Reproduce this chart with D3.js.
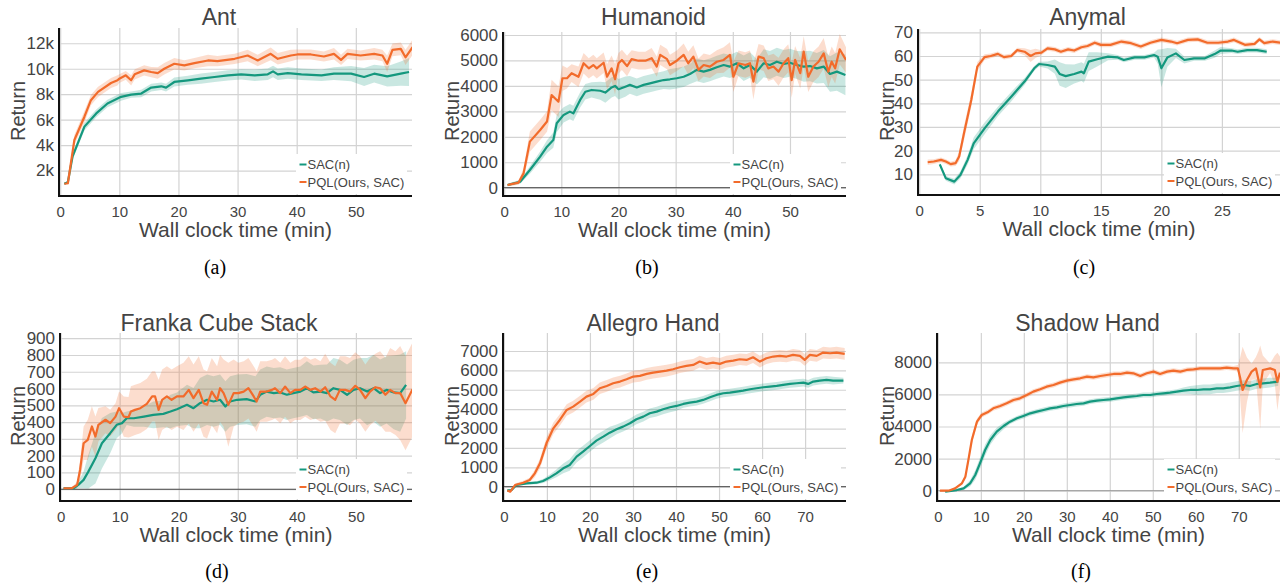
<!DOCTYPE html>
<html>
<head>
<meta charset="utf-8">
<script src="https://cdn.jsdelivr.net/npm/d3@7"></script>
<style>
    body { margin: 0; background: #fff; }
    svg text { font-family: "Liberation Sans", Arial, sans-serif; fill: #444; }
    svg text.caption { font-family: "Liberation Serif", "Times New Roman", serif; fill: #000; }
</style>
</head>
<body>
<svg id="chart" width="1287" height="586"></svg>
<script>

// Each point: [wall clock minutes, mean return, half width of shaded band]
var antSac = [[0.7,960,80],[1.3,1090,100],[2.1,3120,250],[4.1,5450,300],[6.1,6490,300],[8,7270,300],[10.3,7790,300],[12,7970,250],[13.7,8050,300],[15.4,8520,300],[17.1,8620,300],[17.9,8520,300],[19.3,8960,350],[21.6,9090,350],[23.8,9220,400],[26.1,9350,400],[28.4,9480,400],[30.6,9560,400],[32.9,9480,450],[35.1,9560,450],[36,9790,450],[36.8,9560,450],[38.5,9660,450],[40.8,9560,450],[44.2,9480,450],[46.3,9610,500],[49.2,9610,600],[51.4,9350,700],[53.1,9610,700],[55.3,9400,800],[57.6,9610,950],[59,9740,1100]];
var antPql = [[0.7,960,80],[1.3,1000,100],[2.4,4400,400],[4.1,6230,450],[5.2,7530,400],[6.4,8180,400],[8.6,8880,400],[9.7,9090,400],[10,9220,350],[11.1,9480,350],[12,9090,400],[12.6,9560,400],[14.2,9870,400],[15.4,9740,400],[16.5,9660,450],[17.6,10000,450],[19.3,10390,450],[21,10260,400],[22.7,10440,400],[25,10650,450],[26.6,10600,400],[29.5,10780,400],[31.7,11040,450],[33.4,10650,450],[35.6,11170,500],[36.8,10780,450],[39,11040,450],[40.1,11120,400],[42.4,11120,400],[44.6,10960,400],[46.3,11170,450],[47.5,10700,400],[48.6,11170,400],[50.8,11040,400],[53.1,11170,450],[54.5,11040,450],[55.3,10390,650],[56.2,11480,500],[57.6,11560,500],[58.4,10900,600],[59.6,11690,600]];

var humSac = [[0.6,105,50],[2.8,236,80],[4.5,695,150],[6.3,1220,200],[7.5,1610,250],[8.6,1870,300],[9.2,2530,350],[10.4,2860,300],[11.5,2990,300],[12.1,2920,300],[13.3,3450,300],[14.2,3770,300],[15.3,3840,300],[16.8,3810,350],[17.7,3740,400],[18.8,3940,400],[19.4,4000,400],[20,3870,400],[21.2,3970,400],[22,4040,350],[23.2,3940,350],[24.4,4040,350],[25.5,4100,350],[26.7,4170,350],[27.9,4230,350],[29,4260,400],[30.2,4300,400],[31.4,4360,400],[32.5,4470,400],[33.7,4630,450],[34.9,4560,450],[36,4630,450],[37.2,4730,450],[38.4,4820,450],[39.5,4760,450],[40.7,4890,450],[41.9,4690,500],[43,4820,500],[44.2,4560,500],[45.4,4890,550],[46.5,4820,550],[47.7,4950,550],[48.9,4860,550],[50,4910,550],[51.2,4820,550],[52.4,4760,600],[53.5,4780,600],[54.7,4690,600],[55.9,4760,650],[57,4470,700],[58.2,4560,750],[59.7,4430,800]];
var humPql = [[0.6,105,50],[2.5,197,80],[3.4,564,200],[4.5,1810,400],[6.3,2270,400],[7.5,2600,400],[8.3,3640,600],[9.5,3380,600],[10.2,4300,500],[11,4300,400],[11.8,4500,350],[13,4360,400],[13.9,4890,400],[14.8,4690,400],[15.6,4820,400],[16.2,4690,400],[17.4,4910,400],[18,4360,500],[18.8,4690,500],[19.4,4260,600],[20,4890,400],[20.6,5020,400],[21.5,4780,400],[22.3,5050,350],[23.5,4990,350],[24.7,4990,350],[25.8,5090,400],[26.7,4760,400],[27.3,5220,400],[28.5,5050,400],[29,4820,400],[30.2,4990,400],[31.4,5220,450],[32.2,4890,450],[33.1,5150,450],[34,4630,450],[34.9,4820,450],[36,4760,450],[37.2,4950,450],[38.4,5020,500],[39.5,5220,500],[40.1,4360,600],[41,4890,500],[42.2,4820,500],[43,4890,500],[43.6,4170,700],[44.5,5150,500],[45.4,5090,500],[46.2,4690,500],[47.1,4760,500],[48,4560,550],[48.9,4890,550],[49.7,5090,550],[50.3,4230,700],[50.9,5020,550],[51.8,4500,600],[52.4,5350,600],[53.2,4360,600],[54.1,4760,600],[55,4950,600],[55.9,5280,600],[56.7,4560,600],[57.3,4950,600],[57.9,4690,600],[58.7,5440,600],[59.8,5020,500]];

var anySac = [[1.7,14.2,0.8],[2.2,8.3,1],[2.9,6.9,1.2],[3.4,9.7,1.5],[4,16.1,2],[4.5,23.1,2.5],[5.4,29.4,2.5],[6.5,36.5,2],[7.6,42.8,2],[8.7,49.2,1.5],[9.5,54.8,1],[9.9,56.6,1],[10.6,56.2,1.5],[11.2,55.5,3],[11.6,52.4,5],[12.1,51.5,5],[12.8,52.4,4],[13.4,53.4,4],[13.6,52.7,4],[14,57.6,4],[14.7,58.6,3],[15.6,59.7,1.5],[16.4,59.4,1],[16.9,58.3,1],[17.8,59.4,1],[18.6,59.4,1],[19.4,60.4,1],[19.7,59.7,3],[20,54.8,8],[20.5,59.4,4],[21.2,61.1,2],[21.9,58.3,1.5],[22.7,59,1],[23.6,59,1],[24.4,60.8,1.5],[24.9,62.3,1.5],[25.8,62.3,1],[26.3,61.8,1],[27.1,62.5,1],[27.9,62.5,1],[28.7,61.8,1]];
var anyPql = [[0.7,15.1,1.2],[1.2,15.4,1],[1.8,16.1,1],[2.2,15.4,1],[2.6,14.3,1],[3,14.7,1.2],[3.3,17.5,2],[3.7,27.4,3],[4.3,41.4,3],[4.8,55.5,2],[5.4,59.5,1.2],[5.9,60,1],[6.5,60.9,1],[7,59.5,1],[7.6,60,1],[8.1,62.5,1],[8.7,61.8,1.5],[9.2,60,2.5],[9.6,61.1,2],[10.1,61.4,1],[10.6,63.2,1],[11.2,62.8,1],[11.7,61.8,1],[12.3,62.8,1],[12.8,62.3,1],[13.4,63.7,1],[13.9,64.2,1],[14.5,65.6,1],[15,64.7,1],[15.8,64.7,1],[16.7,66.1,1],[17.5,65.4,1],[18.3,64,1],[19.1,65.6,1],[20,66.8,1],[20.8,66.1,1],[21.3,65.4,1],[22.2,66.8,1],[23,67,1],[23.8,65.6,1],[24.7,65.6,1],[25.5,66.1,1],[26,66.8,1],[26.9,64.7,1],[27.7,65.1,1],[28.1,67,1],[28.5,65.4,1],[29.2,66.1,1],[29.9,65.6,1]];

var frkSac = [[0.5,6,5],[2.2,6,5],[3,26,20],[3.9,56,50],[4.7,105,100],[5.9,185,150],[7,274,150],[8.4,334,120],[9.5,384,80],[10.4,394,60],[11.2,423,40],[12.4,423,50],[14.1,433,60],[15.7,443,80],[17.4,449,80],[18.6,463,100],[19.7,477,100],[21.4,503,120],[22.5,483,120],[23.6,513,150],[24.8,533,150],[25.9,523,150],[27,533,150],[27.9,493,150],[28.7,523,150],[29.9,533,150],[31.5,537,150],[33,523,150],[33.8,563,150],[34.9,582,150],[36.1,573,150],[37.2,577,150],[38.3,563,150],[39.4,573,150],[40.6,582,150],[41.7,602,160],[42.8,577,160],[44,582,160],[45.1,573,170],[46.2,602,180],[47.3,592,180],[48.5,563,180],[49.6,592,180],[50.7,602,180],[51.9,582,200],[53,602,200],[54.1,573,200],[55.2,592,200],[56.4,577,220],[57.5,573,230],[58.5,622,200]];
var frkPql = [[0.5,6,5],[1.9,6,5],[2.8,26,20],[3.3,115,60],[3.9,274,100],[4.6,294,120],[5.3,374,120],[5.9,314,120],[6.4,384,100],[7.6,414,80],[8.4,394,80],[9.3,433,80],[9.9,483,100],[10.7,433,120],[11.5,429,120],[11.9,463,150],[12.6,473,150],[13.5,483,150],[14.6,509,150],[15.5,553,150],[16,553,150],[16.6,473,180],[17.2,533,180],[18,553,180],[18.8,533,180],[19.7,553,180],[20.8,553,200],[21.7,592,200],[22.5,543,200],[23.4,592,200],[24.2,513,200],[24.8,503,200],[25.6,582,200],[26.5,533,200],[27,602,200],[27.6,573,200],[28.4,503,250],[29.3,573,200],[30.1,573,180],[31,582,180],[31.8,602,180],[32.7,553,180],[33.2,523,180],[33.8,582,180],[34.9,582,180],[35.8,592,180],[36.3,602,180],[37.2,573,180],[38,612,180],[38.9,573,180],[39.7,592,180],[40.6,592,180],[41.4,612,180],[42.3,592,180],[43.1,602,180],[44,582,180],[44.8,608,200],[45.7,553,200],[46.5,533,200],[47.3,592,200],[48.2,592,200],[49,582,200],[49.9,616,200],[50.7,592,200],[51.6,543,200],[52.4,582,200],[53.3,608,200],[54.1,602,220],[55,563,220],[55.8,592,250],[56.7,573,250],[57.5,573,280],[58.4,513,280],[59.6,596,280]];

var allSac = [[0.8,-200,60],[1.8,-170,60],[2.9,86,60],[5.3,172,60],[7.6,206,80],[9.1,293,100],[10.7,482,150],[12.2,688,200],[13.8,947,250],[15.3,1119,300],[16.9,1549,300],[18.4,1807,300],[20,2100,300],[21.5,2375,300],[23.1,2582,300],[24.6,2788,300],[26.2,2960,250],[27.7,3098,250],[29.3,3270,250],[30.8,3477,250],[32.4,3614,250],[33.9,3787,250],[35.5,3873,250],[37,3993,250],[38.6,4096,250],[40.1,4165,250],[41.7,4269,200],[43.2,4337,200],[44.8,4389,200],[46.3,4475,200],[47.9,4613,200],[49.4,4733,200],[51,4819,200],[52.5,4854,200],[54.1,4905,200],[55.6,4957,200],[57.2,5026,200],[58.7,5077,200],[60.3,5129,200],[61.8,5163,200],[63.4,5198,200],[64.9,5250,200],[66.5,5301,200],[68,5336,200],[69.6,5370,200],[70.7,5301,200],[71.9,5422,200],[73.4,5473,200],[75,5508,200],[76.5,5473,200],[78.9,5473,150]];
var allPql = [[0.8,-200,60],[1.5,-260,60],[2.6,86,80],[4.5,206,100],[6,344,120],[7.2,688,200],[8.4,1205,250],[9.9,2238,300],[11.5,3012,300],[13,3442,300],[14.6,3959,300],[16.1,4131,300],[17.7,4389,300],[19.2,4647,300],[20.8,4785,300],[22.3,5077,300],[23.9,5198,300],[25.4,5336,300],[27,5422,300],[28.5,5542,300],[30.1,5680,300],[31.6,5714,300],[33.2,5818,300],[34.7,5886,300],[36.3,5938,300],[37.8,5990,300],[39.3,6059,300],[40.9,6162,300],[42.4,6231,300],[44,6282,300],[45.5,6454,300],[47.1,6334,300],[48.6,6403,300],[50.2,6334,300],[51.7,6454,300],[53.3,6506,300],[54.8,6575,300],[56.4,6540,300],[57.9,6678,300],[59.5,6454,300],[61,6627,300],[62.6,6713,300],[64.1,6747,300],[65.7,6713,300],[67.2,6799,300],[68.8,6747,300],[69.9,6540,300],[71.1,6799,300],[72.7,6747,300],[74.2,6919,300],[75.8,6885,300],[77.3,6919,300],[79.2,6850,300]];

var shdSac = [[1.7,-60,40],[4.4,40,50],[6,145,100],[7.5,457,200],[8.7,977,300],[9.8,1704,350],[11,2535,350],[12.2,3159,300],[13.7,3678,250],[15.3,4031,200],[16.8,4301,150],[18.4,4509,150],[19.9,4655,150],[21.5,4821,150],[23,4925,150],[24.6,5029,150],[26.1,5133,150],[27.7,5195,150],[29.2,5278,150],[30.8,5340,150],[32.3,5403,150],[33.9,5444,150],[35.4,5548,150],[37,5611,150],[38.5,5652,150],[40.1,5694,150],[41.6,5756,150],[43.2,5819,150],[44.7,5860,150],[46.3,5902,150],[47.8,5964,150],[49.4,5964,150],[50.9,6026,150],[52.5,6068,150],[54,6109,150],[55.6,6172,150],[57.1,6234,200],[58.7,6276,250],[60.2,6276,300],[61.8,6317,300],[63.3,6317,300],[64.9,6380,300],[66.4,6380,300],[68,6442,300],[69.5,6525,300],[71.1,6587,300],[72.6,6525,300],[74.2,6650,300],[75.7,6691,300],[77.3,6733,300],[79.2,6795,250]];
var shdPql = [[0.5,0,30],[2.5,0,30],[4,145,60],[5.6,457,100],[6.4,873,150],[7.1,1912,200],[7.9,3159,250],[9.1,4301,200],[10.2,4717,150],[11.8,4925,150],[12.9,5133,150],[14.5,5278,150],[16,5444,150],[17.6,5652,150],[19.1,5756,150],[20.7,5964,150],[22.2,6172,150],[23.8,6317,150],[25.3,6483,150],[26.9,6587,150],[28.4,6733,150],[30,6857,150],[31.6,6940,150],[33.1,7003,150],[34.7,7107,150],[36.2,7065,150],[37.8,7148,150],[39.3,7211,150],[40.9,7273,150],[42.4,7273,150],[44,7356,150],[45.5,7315,150],[47.1,7148,150],[48.6,7315,150],[50.2,7419,150],[51.7,7273,150],[53.3,7419,150],[54.8,7481,150],[56.4,7419,150],[57.9,7523,150],[59.5,7564,150],[61,7626,150],[62.6,7626,150],[64.1,7626,150],[65.7,7626,150],[67.2,7668,150],[68.8,7626,150],[69.8,7626,200],[70.3,7065,1200],[70.9,6276,2700],[71.9,6899,1400],[73,7419,500],[74,7626,700],[74.6,6899,1800],[75,6442,2600],[75.6,7523,900],[77.3,7626,300],[78.4,7523,900],[79,6795,1800],[79.6,7356,1000]];

// Titles, captions, legend names and tick values
var titles = ["Ant", "Humanoid", "Anymal", "Franka Cube Stack", "Allegro Hand", "Shadow Hand"];
var captions = ["(a)", "(b)", "(c)", "(d)", "(e)", "(f)"];
var seriesNames = ["SAC(n)", "PQL(Ours, SAC)"];
var xTicks60 = [0, 10, 20, 30, 40, 50];
var xTicks30 = [0, 5, 10, 15, 20, 25];
var xTicks80 = [0, 10, 20, 30, 40, 50, 60, 70];
var antYTicks = [2000, 4000, 6000, 8000, 10000, 12000];
var humYTicks = [0, 1000, 2000, 3000, 4000, 5000, 6000];
var anyYTicks = [10, 20, 30, 40, 50, 60, 70];
var frkYTicks = [0, 100, 200, 300, 400, 500, 600, 700, 800, 900];
var allYTicks = [0, 1000, 2000, 3000, 4000, 5000, 6000, 7000];
var shdYTicks = [0, 2000, 4000, 6000, 8000];

var sacColor = "#14987e";
var pqlColor = "#f26b2b";

// Layout of the six panels
var panels = [
    { sac: antSac, pql: antPql, xDomain: [-0.2, 59.5], yDomain: [0, 13200], xTicks: xTicks60, yTicks: antYTicks,
      fmt: function(d) { return (d / 1000) + "k"; },
      left: 59, right: 412, top: 28, bottom: 196, titleX: 219, titleY: 25, capX: 215, capY: 274, ylabX: 25, ylabY: 111 },
    { sac: humSac, pql: humPql, xDomain: [-0.2, 59.8], yDomain: [-326, 6118], xTicks: xTicks60, yTicks: humYTicks,
      left: 503, right: 846, top: 32, bottom: 196, titleX: 653.5, titleY: 25, capX: 647, capY: 274, ylabX: 458.5, ylabY: 111 },
    { sac: anySac, pql: anyPql, xDomain: [-0.1, 29.8], yDomain: [1.25, 71.4], xTicks: xTicks30, yTicks: anyYTicks,
      left: 918, right: 1280, top: 29, bottom: 195, titleX: 1087.5, titleY: 25, capX: 1084, capY: 274, ylabX: 894, ylabY: 111 },
    { sac: frkSac, pql: frkPql, xDomain: [-0.1, 59.5], yDomain: [-70, 931], xTicks: xTicks60, yTicks: frkYTicks,
      left: 60, right: 412, top: 333, bottom: 501, titleX: 219, titleY: 331, capX: 217, capY: 578, ylabX: 25, ylabY: 416 },
    { sac: allSac, pql: allPql, xDomain: [-0.2, 79.5], yDomain: [-738, 7928], xTicks: xTicks80, yTicks: allYTicks,
      left: 503, right: 846, top: 333, bottom: 501, titleX: 653, titleY: 331, capX: 647, capY: 578, ylabX: 459, ylabY: 416 },
    { sac: shdSac, pql: shdPql, xDomain: [-0.2, 79.6], yDomain: [-642, 9826], xTicks: xTicks80, yTicks: shdYTicks,
      left: 937, right: 1280, top: 333, bottom: 501, titleX: 1087.5, titleY: 331, capX: 1081, capY: 578, ylabX: 894, ylabY: 416,
      zeroColor: "#999" }
];

var svg = d3.select("#chart");

for (var i = 0; i < panels.length; i++) {
    drawPanel(svg, panels[i], i);
}

function drawPanel(svg, p, index) {
    var x = d3.scaleLinear().domain(p.xDomain).range([p.left, p.right]);
    var y = d3.scaleLinear().domain(p.yDomain).range([p.bottom, p.top]);
    var w = p.right - p.left;
    var h = p.bottom - p.top;
    var g = svg.append("g");

    // Grid lines and tick labels
    var xAxis = g.append("g")
        .attr("transform", "translate(0," + p.bottom + ")")
        .call(d3.axisBottom(x).tickValues(p.xTicks).tickSize(-h).tickPadding(10));
    var yAxis = g.append("g")
        .attr("transform", "translate(" + p.left + ",0)")
        .call(d3.axisLeft(y).tickValues(p.yTicks).tickSize(-w).tickPadding(5)
            .tickFormat(p.fmt || d3.format("d")));

    xAxis.select(".domain").remove();
    yAxis.select(".domain").remove();
    g.selectAll(".tick line").attr("stroke", "#d3d3d3").attr("stroke-width", 1.2);
    xAxis.selectAll("text").style("font-size", "15px").attr("fill", "#444");
    yAxis.selectAll("text").style("font-size", "17px").attr("fill", "#444");

    // Clip marks to the plot area
    var clipId = "clip" + index;
    svg.append("clipPath").attr("id", clipId)
        .append("rect").attr("x", p.left).attr("y", p.top).attr("width", w).attr("height", h);
    var plot = g.append("g").attr("clip-path", "url(#" + clipId + ")");

    // Zero line
    if (p.yDomain[0] < 0) {
        plot.append("line")
            .attr("x1", p.left).attr("x2", p.right)
            .attr("y1", y(0)).attr("y2", y(0))
            .attr("stroke", p.zeroColor || "#444").attr("stroke-width", 1);
    }

    var area = d3.area()
        .x(function(d) { return x(d[0]); })
        .y0(function(d) { return y(d[1] - d[2]); })
        .y1(function(d) { return y(d[1] + d[2]); });
    var line = d3.line()
        .x(function(d) { return x(d[0]); })
        .y(function(d) { return y(d[1]); });

    var series = [[p.sac, sacColor], [p.pql, pqlColor]];
    series.forEach(function(s) {
        plot.append("path").attr("d", area(s[0])).attr("fill", s[1]).attr("fill-opacity", 0.23);
    });
    series.forEach(function(s) {
        plot.append("path").attr("d", line(s[0])).attr("fill", "none")
            .attr("stroke", s[1]).attr("stroke-width", 2.2).attr("stroke-linejoin", "round");
    });

    // Legend box in the lower right corner
    var textX = p.right - 104.5;
    g.append("rect")
        .attr("x", p.right - 116).attr("y", p.bottom - 42)
        .attr("width", 111).attr("height", 40)
        .attr("fill", "#fff");
    for (var k = 0; k < 2; k++) {
        var base = p.bottom - 27 + k * 17.5;
        g.append("line")
            .attr("x1", textX - 8).attr("x2", textX - 1)
            .attr("y1", base - 4.5).attr("y2", base - 4.5)
            .attr("stroke", series[k][1]).attr("stroke-width", 2);
        g.append("text")
            .attr("x", textX).attr("y", base)
            .style("font-size", "13px")
            .text(seriesNames[k]);
    }

    // Axis spines
    g.append("line")
        .attr("x1", p.left).attr("x2", p.left).attr("y1", p.top).attr("y2", p.bottom + 1)
        .attr("stroke", "#111").attr("stroke-width", 2);
    g.append("line")
        .attr("x1", p.left - 1).attr("x2", p.right).attr("y1", p.bottom).attr("y2", p.bottom)
        .attr("stroke", "#111").attr("stroke-width", 2);

    // Title, axis labels, caption
    g.append("text")
        .attr("x", p.titleX).attr("y", p.titleY)
        .attr("text-anchor", "middle")
        .style("font-size", "23px")
        .text(titles[index]);
    g.append("text")
        .attr("x", (p.left + p.right) / 2).attr("y", p.bottom + 41)
        .attr("text-anchor", "middle")
        .style("font-size", "21px")
        .text("Wall clock time (min)");
    g.append("text")
        .attr("transform", "translate(" + p.ylabX + "," + p.ylabY + ") rotate(-90)")
        .attr("text-anchor", "middle")
        .style("font-size", "20px")
        .text("Return");
    g.append("text")
        .attr("class", "caption")
        .attr("x", p.capX).attr("y", p.capY)
        .attr("text-anchor", "middle")
        .style("font-size", "20px")
        .text(captions[index]);
}

</script>
</body>
</html>
